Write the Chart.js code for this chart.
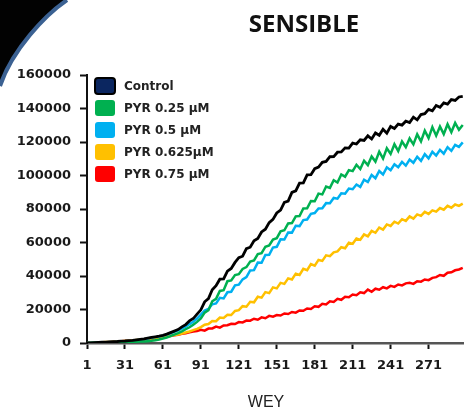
<!DOCTYPE html>
<html>
<head>
<meta charset="utf-8">
<script src="https://cdn.jsdelivr.net/npm/chart.js@4.4.0/dist/chart.umd.min.js"></script>
<style>
  html, body { margin: 0; padding: 0; background: #fff; }
  canvas { display: block; }
</style>
</head>
<body>
<canvas id="growth" width="464" height="408"></canvas>
<script>
// time points (every 3rd reading)
const days = [
  1, 4, 7, 10, 13, 16, 19, 22, 25, 28,
  31, 34, 37, 40, 43, 46, 49, 52, 55, 58,
  61, 64, 67, 70, 73, 76, 79, 82, 85, 88,
  91, 94, 97, 100, 103, 106, 109, 112, 115, 118,
  121, 124, 127, 130, 133, 136, 139, 142, 145, 148,
  151, 154, 157, 160, 163, 166, 169, 172, 175, 178,
  181, 184, 187, 190, 193, 196, 199, 202, 205, 208,
  211, 214, 217, 220, 223, 226, 229, 232, 235, 238,
  241, 244, 247, 250, 253, 256, 259, 262, 265, 268,
  271, 274, 277, 280, 283, 286, 289, 292, 295, 298
];

const control = [
  0, 100, 200, 300, 450, 550, 700, 800, 900, 1100,
  1200, 1400, 1600, 1900, 2200, 2500, 2900, 3300, 3700, 4100,
  4600, 5300, 6200, 7100, 8000, 9600, 11000, 13200, 14600, 17200,
  19800, 24600, 26500, 31800, 34200, 38100, 38300, 42900, 44500, 48100,
  50900, 51800, 56300, 57200, 61000, 62400, 66300, 67900, 71900, 73800,
  77600, 79400, 84000, 84700, 89900, 90800, 95500, 95600, 100400, 100500,
  104100, 105000, 107900, 108400, 111200, 111300, 113900, 114100, 116500, 116400,
  119300, 118800, 121300, 120900, 123700, 121800, 125400, 124000, 127600, 125300,
  129300, 128100, 130700, 130100, 132400, 131600, 134800, 133200, 136400, 136900,
  139500, 138600, 141800, 140700, 143400, 142600, 145300, 144800, 146900, 147300
];

const pyr025 = [
  0, 50, 100, 150, 200, 250, 300, 350, 450, 550,
  650, 700, 750, 800, 850, 950, 1100, 1300, 1600, 2100,
  2700, 3300, 4100, 5000, 5900, 7000, 8200, 9400, 10900, 12600,
  14600, 18100, 19600, 24900, 26400, 31100, 31500, 36900, 37400, 40600,
  41100, 44200, 45300, 48600, 49300, 53100, 53600, 57500, 58200, 61800,
  62600, 66700, 67300, 71400, 71600, 75600, 75800, 80300, 80400, 84800,
  84600, 89200, 88700, 93400, 92600, 97200, 95800, 100600, 99300, 103200,
  102600, 106400, 103900, 108800, 106200, 111400, 108300, 114200, 110100, 116300,
  112900, 118700, 114600, 120300, 116900, 122100, 118600, 124600, 120400, 126800,
  122300, 128900, 123800, 129300, 124700, 130600, 125900, 131400, 127300, 130200
];

const pyr05 = [
  0, 80, 150, 250, 350, 450, 550, 650, 750, 850,
  1000, 1200, 1400, 1700, 2000, 2300, 2700, 3100, 3500, 3900,
  4400, 5000, 5800, 6700, 7600, 8600, 9800, 11300, 12700, 14600,
  16900, 19400, 20300, 23100, 23600, 27000, 26600, 30300, 30600, 34400,
  34800, 38000, 39400, 43300, 43500, 48000, 47900, 52500, 52600, 57000,
  57400, 61900, 61800, 66000, 65900, 70000, 69800, 73400, 73700, 77100,
  77600, 80300, 80400, 83500, 83400, 86600, 86200, 89400, 89100, 92200,
  91800, 94600, 93200, 97500, 96100, 100300, 98400, 102700, 100600, 104900,
  103200, 106700, 104900, 108100, 105900, 109500, 107600, 111200, 108700, 112800,
  110200, 114100, 111900, 115300, 113000, 116900, 114700, 118300, 117100, 119800
];

const pyr0625 = [
  0, 100, 200, 300, 400, 550, 650, 800, 950, 1100,
  1250, 1400, 1550, 1800, 2000, 2200, 2500, 2700, 3000, 3200,
  3500, 3900, 4300, 4800, 5100, 5700, 6300, 6900, 7700, 8400,
  9500, 10900, 11300, 13100, 13000, 15200, 15000, 16900, 16700, 19100,
  19600, 22000, 21700, 24600, 24300, 27600, 27100, 30400, 29800, 33200,
  32600, 35900, 35300, 38600, 37900, 41400, 40600, 44300, 43500, 47100,
  46200, 49600, 49000, 52300, 51800, 54100, 54700, 57200, 56600, 59900,
  59200, 62400, 61600, 64800, 63700, 66900, 65800, 68900, 67700, 70800,
  69900, 72400, 71300, 73900, 72900, 75600, 74300, 76800, 75900, 78300,
  77100, 79200, 78400, 80600, 79600, 81900, 80800, 82700, 81900, 83200
];

const pyr075 = [
  0, 100, 200, 300, 400, 500, 650, 750, 900, 1000,
  1150, 1300, 1500, 1700, 1800, 2000, 2200, 2500, 2800, 3100,
  3400, 3900, 4200, 4600, 4900, 5500, 5800, 6400, 6900, 7200,
  7900, 7400, 8600, 8700, 9800, 9200, 10500, 10600, 11500, 11300,
  12500, 12300, 13400, 13300, 14500, 13900, 15300, 14800, 16200, 15700,
  16700, 16400, 17600, 17300, 18500, 18100, 19400, 19200, 20600, 20300,
  21900, 21600, 23400, 23000, 24900, 24500, 26400, 25800, 27600, 27300,
  28900, 28500, 30300, 29800, 31900, 30600, 32400, 31800, 33300, 32600,
  34100, 33500, 34900, 34400, 35600, 35900, 35300, 36900, 36600, 37900,
  37500, 38900, 39300, 40600, 40100, 41900, 42200, 43400, 43900, 44900
];

const seriesNames = ['Control', 'PYR 0.25 \u03bcM', 'PYR 0.5 \u03bcM', 'PYR 0.625\u03bcM', 'PYR 0.75 \u03bcM'];
const xTicks = [1, 31, 61, 91, 121, 151, 181, 211, 241, 271];
const yTicks = [0, 20000, 40000, 60000, 80000, 100000, 120000, 140000, 160000];

const lineColors = ['#000000', '#00b050', '#00b0f0', '#ffc000', '#ff0000'];
const boxColors = ['#0b2660', '#00b050', '#00b0f0', '#ffc000', '#ff0000'];
const allSeries = [control, pyr025, pyr05, pyr0625, pyr075];

const toPoints = (values) => values.map((v, i) => ({ x: days[i], y: v }));

// dark corner with the blue rim in the top left
const cornerFrame = {
  id: 'cornerFrame',
  beforeDraw(chart) {
    const ctx = chart.ctx;
    ctx.save();
    ctx.fillStyle = '#fff';
    ctx.fillRect(0, 0, chart.width, chart.height);
    ctx.beginPath();
    ctx.moveTo(0, 0);
    ctx.lineTo(67, 0);
    ctx.bezierCurveTo(45, 15, 12, 50, 0, 86);
    ctx.closePath();
    ctx.fillStyle = '#020202';
    ctx.fill();
    ctx.beginPath();
    ctx.moveTo(67, 0);
    ctx.bezierCurveTo(45, 15, 12, 50, 0, 86);
    ctx.strokeStyle = '#3b6192';
    ctx.lineWidth = 4;
    ctx.stroke();
    ctx.restore();
  }
};

// heading and x-axis caption
const captions = {
  id: 'captions',
  afterDraw(chart) {
    const ctx = chart.ctx;
    ctx.save();
    ctx.fillStyle = '#111';
    ctx.textAlign = 'center';
    ctx.textBaseline = 'alphabetic';
    ctx.font = 'bold 24px "Open Sans"';
    ctx.fillText('SENSIBLE', 304, 32);
    ctx.fillStyle = '#222';
    ctx.font = '16px "Liberation Sans"';
    ctx.fillText('WEY', 266, 407);
    ctx.restore();
  }
};

// legend boxes inside the plot, top left
const insideLegend = {
  id: 'insideLegend',
  afterDraw(chart) {
    const ctx = chart.ctx;
    const left = chart.chartArea.left + 8;
    let top = 78;
    ctx.save();
    ctx.font = 'bold 12px "DejaVu Sans"';
    ctx.textBaseline = 'middle';
    ctx.textAlign = 'left';
    chart.data.datasets.forEach((ds, i) => {
      ctx.beginPath();
      ctx.roundRect(left, top, 20, 16, 3);
      ctx.fillStyle = ds.backgroundColor;
      ctx.fill();
      if (i === 0) {
        ctx.strokeStyle = '#000';
        ctx.lineWidth = 2;
        ctx.stroke();
      }
      ctx.fillStyle = '#222';
      ctx.fillText(ds.label, left + 29, top + 9);
      top += 22;
    });
    ctx.restore();
  }
};

new Chart(document.getElementById('growth'), {
  type: 'line',
  data: {
    datasets: allSeries.map((values, i) => ({
      label: seriesNames[i],
      data: toPoints(values),
      borderColor: lineColors[i],
      backgroundColor: boxColors[i],
      borderWidth: i === 0 ? 2.8 : 2.5,
      pointRadius: 0,
      tension: 0,
      fill: false
    }))
  },
  options: {
    responsive: false,
    animation: false,
    layout: { padding: { top: 75, right: 0, bottom: 0, left: 0 } },
    plugins: {
      legend: { display: false },
      title: { display: false },
      tooltip: { enabled: false }
    },
    scales: {
      x: {
        type: 'linear',
        min: 1,
        max: 299,
        afterBuildTicks: (scale) => { scale.ticks = xTicks.map(v => ({ value: v })); },
        afterFit: (scale) => { scale.height = 65; },
        border: { display: true, color: '#555', width: 2.5 },
        grid: { display: true, drawOnChartArea: false, drawTicks: true, tickLength: 6, tickColor: '#111', tickWidth: 2 },
        ticks: {
          autoSkip: false,
          maxRotation: 0,
          padding: 9,
          color: '#1a1a1a',
          font: { family: 'DejaVu Sans', size: 13, weight: 'bold' },
          callback: (v) => String(v)
        }
      },
      y: {
        min: 0,
        max: 160000,
        afterBuildTicks: (scale) => { scale.ticks = yTicks.map(v => ({ value: v })); },
        afterFit: (scale) => { scale.width = 87; },
        border: { display: true, color: '#111', width: 2 },
        grid: { display: true, drawOnChartArea: false, drawTicks: true, tickLength: 7, tickColor: '#111', tickWidth: 2 },
        ticks: {
          padding: 9,
          color: '#1a1a1a',
          font: { family: 'DejaVu Sans', size: 13, weight: 'bold' },
          callback: (v) => String(v)
        }
      }
    }
  },
  plugins: [cornerFrame, captions, insideLegend]
});
</script>
</body>
</html>
